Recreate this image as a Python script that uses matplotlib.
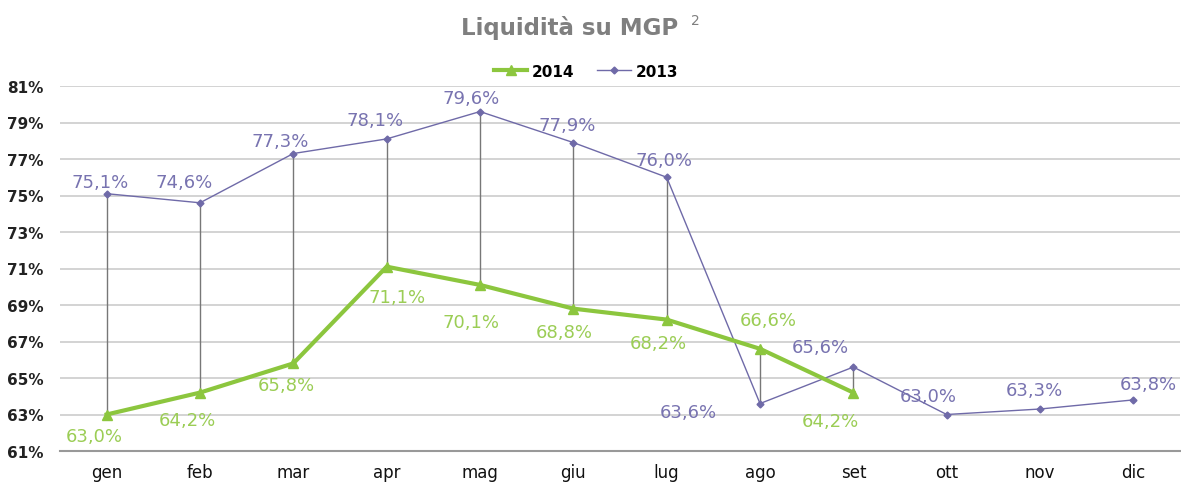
import matplotlib.pyplot as plt
import numpy as np

plt.rcParams['font.family'] = ['DejaVu Sans']

months = ['gen', 'feb', 'mar', 'apr', 'mag', 'giu', 'lug', 'ago', 'set', 'ott', 'nov', 'dic']
vals_2013 = [75.1, 74.6, 77.3, 78.1, 79.6, 77.9, 76.0, 63.6, 65.6, 63.0, 63.3, 63.8]
vals_2014 = [63.0, 64.2, 65.8, 71.1, 70.1, 68.8, 68.2, 66.6, 64.2]

# label offsets in pixels (dx, dy)
off_2013 = [(-7, 12), (-16, 21), (-13, 13), (-12, 19), (-9, 14), (-6, 18), (-3, 17), (-72, -8), (-33, 20), (-18, 18), (-6, 19), (15, 16)]
off_2014 = [(-12, -22), (-13, -27), (-7, -22), (10, -30), (-9, -37), (-9, -23), (-8, -23), (8, 29), (-23, -28)]

green = '#8cc63e'
purple = '#6f6aa8'
green_txt = '#9bcd55'
purple_txt = '#7873b0'

fig = plt.figure(figsize=(11.81, 4.89), dpi=100)
ax = fig.add_axes([60 / 1181, 37 / 489, 1120 / 1181, 365 / 489])

x13 = np.arange(len(vals_2013))
x14 = np.arange(len(vals_2014))

# high-low lines
for i in x14:
    ax.plot([i, i], [vals_2013[i], vals_2014[i]], color='#777777', lw=1, zorder=2)

ax.plot(x14, vals_2014, color=green, lw=3, marker='^', ms=7, label='2014', zorder=4)
ax.plot(x13, vals_2013, color=purple, lw=1, marker='D', ms=3.5, label='2013', zorder=3)

for i, v in enumerate(vals_2013):
    ax.annotate(f"{v:.1f}%".replace('.', ','), (i, v), xytext=off_2013[i], textcoords='offset pixels',
                ha='center', va='center', color=purple_txt, fontsize=13)
for i, v in enumerate(vals_2014):
    ax.annotate(f"{v:.1f}%".replace('.', ','), (i, v), xytext=off_2014[i], textcoords='offset pixels',
                ha='center', va='center', color=green_txt, fontsize=13)

ax.set_xlim(-0.5, 11.5)
ax.set_ylim(61, 81)
ax.set_yticks(np.arange(61, 82, 2))
ax.set_yticklabels([f"{t}%" for t in range(61, 82, 2)], fontsize=11, fontweight='bold', color='#222222')
ax.set_xticks(x13)
ax.set_xticklabels(months, fontsize=12, color='#111111')
ax.tick_params(axis='both', length=0)
ax.tick_params(axis='x', pad=9)
ax.tick_params(axis='y', pad=12)
ax.grid(axis='y', color='#cccccc', lw=1.2)
ax.set_axisbelow(True)
for s in ['top', 'right', 'left']:
    ax.spines[s].set_visible(False)
ax.spines['bottom'].set_color('#999999')
ax.spines['bottom'].set_linewidth(1.5)

fig.text(0.482, 0.943, 'Liquidità su MGP', ha='center', va='center', fontsize=16.5, fontweight='bold', color='#7f7f7f')
fig.text(0.585, 0.957, '2', ha='left', va='center', fontsize=10, color='#7f7f7f')

leg = ax.legend(loc='center', bbox_to_anchor=(526 / 1120, (489 - 72 - 37) / 365), ncol=2, frameon=False,
                prop={'weight': 'bold', 'size': 11}, handlelength=2.2, columnspacing=1.5, handletextpad=0.3)

fig.savefig('out.png', dpi=100)
